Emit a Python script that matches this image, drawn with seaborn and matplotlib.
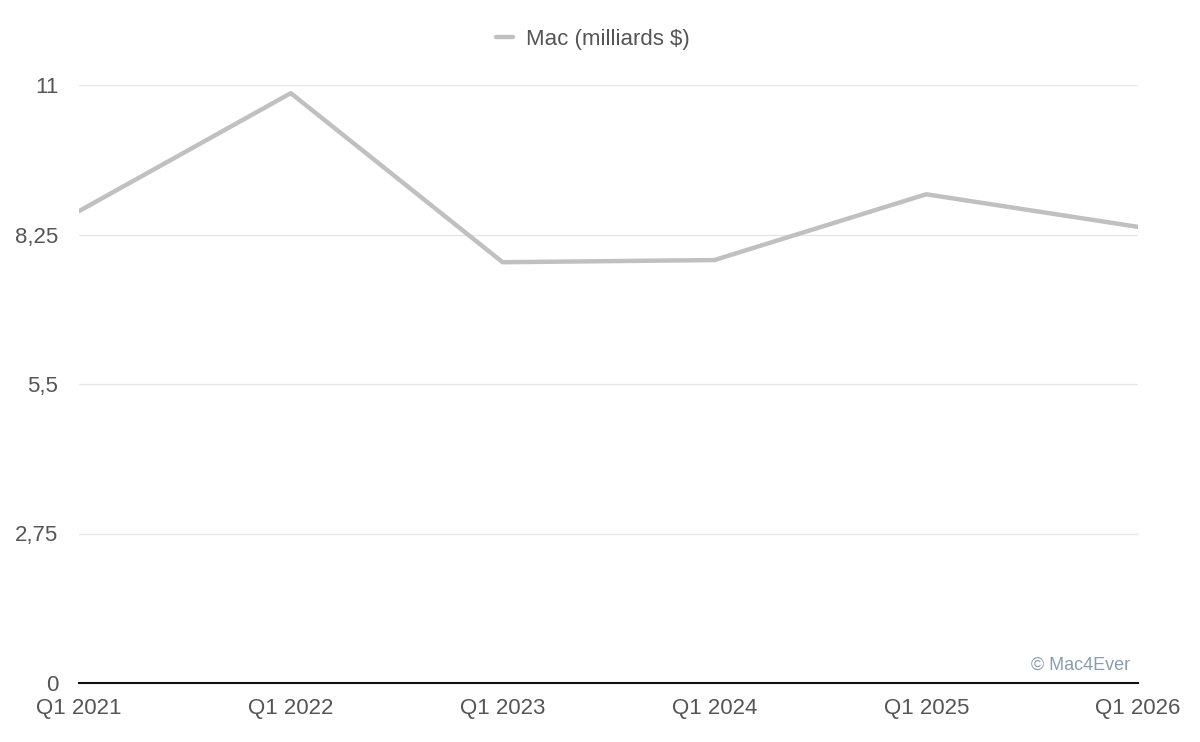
import numpy as np
import pandas as pd
import matplotlib
matplotlib.use("Agg")
import matplotlib.pyplot as plt
import seaborn as sns

# valeurs
quarters = ["Q1 2021", "Q1 2022", "Q1 2023", "Q1 2024", "Q1 2025", "Q1 2026"]
mac_rev = [8.68, 10.85, 7.74, 7.78, 8.99, 8.39]
yticks = [0, 2.75, 5.5, 8.25, 11]
ytick_labels = ["0", "2,75", "5,5", "8,25", "11"]

df = pd.DataFrame({"pos": np.arange(len(quarters)), "rev": mac_rev})

sns.set_theme(style="white")
plt.rcParams["font.family"] = ["Liberation Sans", "DejaVu Sans"]

TXT = "#555555"
LINE = "#c0c0c0"

fig = plt.figure(figsize=(12, 7.42), dpi=100)
ax = fig.add_axes([79/1200, 59/742, (1138-79)/1200, (683-85)/742])

for t in yticks[1:]:
    ax.axhline(t, color="#e6e6e6", lw=1, zorder=0)

sns.lineplot(data=df, x="pos", y="rev", ax=ax, color=LINE, lw=3.2,
             label="Mac (milliards $)", legend=False)

ax.set_xlim(0, len(quarters) - 1)
ax.set_ylim(0, 11)
ax.set_xticks(df["pos"])
ax.set_xticklabels(quarters)
ax.set_yticks(yticks)
ax.set_yticklabels(ytick_labels)
ax.tick_params(axis="both", length=0, labelsize=16, labelcolor=TXT)
ax.tick_params(axis="x", pad=11)
ax.tick_params(axis="y", pad=15)
ax.set_xlabel("")
ax.set_ylabel("")
for s in ["top", "right", "left"]:
    ax.spines[s].set_visible(False)
ax.spines["bottom"].set_color("#111111")
ax.spines["bottom"].set_linewidth(1.5)

ax.text(0.993, 0.015, "© Mac4Ever", transform=ax.transAxes, ha="right", va="bottom",
        fontsize=13, color="#8a9db0")

leg = fig.legend(handles=ax.get_lines()[-1:], labels=["Mac (milliards $)"],
                 loc="center", bbox_to_anchor=(0.494, 1 - 39/742), frameon=False,
                 fontsize=16, handlelength=0.75, handletextpad=0.6)
for t in leg.get_texts():
    t.set_color(TXT)

fig.savefig("out.png", dpi=100, facecolor="white")
